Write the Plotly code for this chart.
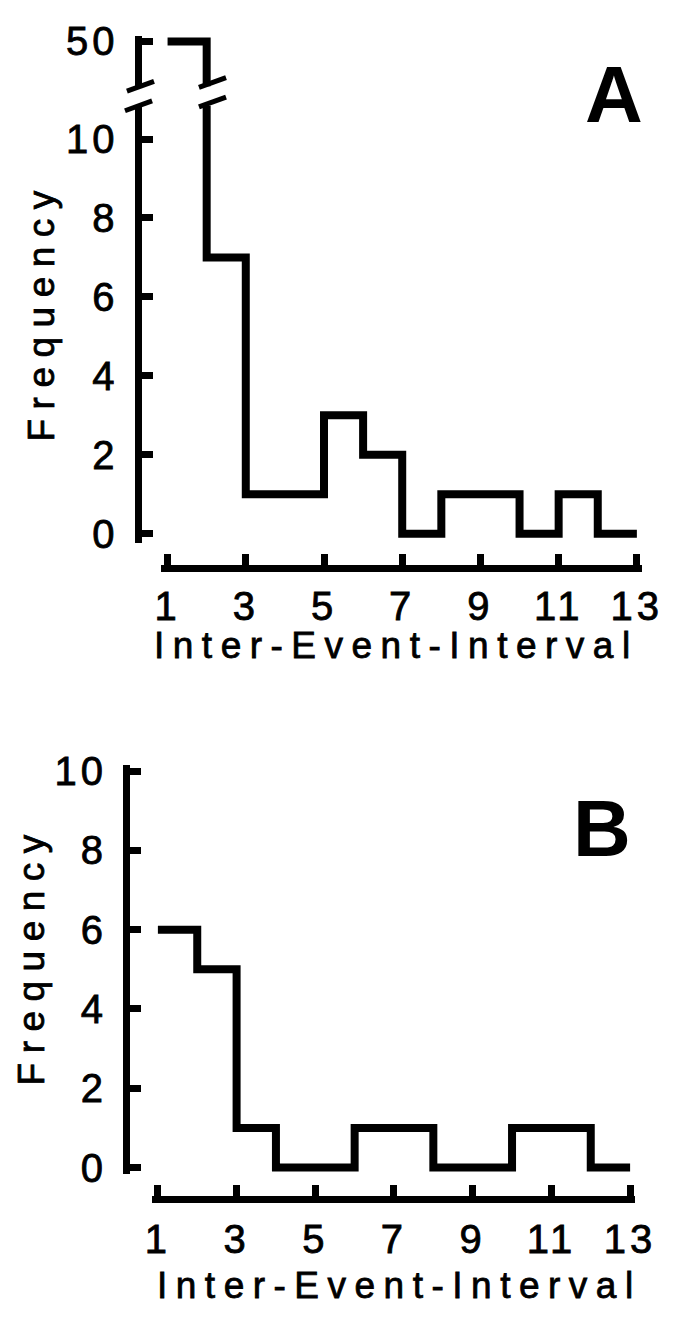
import plotly.graph_objects as go

# ---------------- data ----------------
bin_edges = [1, 2, 3, 4, 5, 6, 7, 8, 9, 10, 11, 12, 13]
counts_A = [50, 7, 1, 1, 3, 2, 0, 1, 1, 0, 1, 0]
counts_B = [6, 5, 1, 0, 0, 1, 1, 0, 0, 1, 1, 0]
x_ticks = [1, 3, 5, 7, 9, 11, 13]
y_ticks_low = [0, 2, 4, 6, 8, 10]
y_ticks_high = [50]
x_title = "Inter-Event-Interval"
y_title = "Frequency"
panel_labels = ["A", "B"]

W, H = 680, 1332


def px(x):
    return x / W


def py(y):
    return 1 - y / H


FONT = "Liberation Sans, Arial, sans-serif"
LW = 8      # histogram line width
AW = 7      # axis line width

fig = go.Figure()

stepA_y = counts_A + [counts_A[-1]]
stepB_y = counts_B + [counts_B[-1]]

line_style = dict(color="black", width=LW, shape="hv")
# panel A: lower and upper parts of the broken axis
fig.add_trace(go.Scatter(x=bin_edges, y=stepA_y, mode="lines", line=line_style,
                         xaxis="x", yaxis="y", showlegend=False, hoverinfo="skip"))
fig.add_trace(go.Scatter(x=bin_edges, y=stepA_y, mode="lines", line=line_style,
                         xaxis="x", yaxis="y2", showlegend=False, hoverinfo="skip"))
# panel B
fig.add_trace(go.Scatter(x=bin_edges, y=stepB_y, mode="lines", line=line_style,
                         xaxis="x2", yaxis="y3", showlegend=False, hoverinfo="skip"))

tickfont = dict(family=FONT, size=40, color="black")
axis_common = dict(showgrid=False, zeroline=False, showline=True, linecolor="black", linewidth=AW,
                   ticks="inside", ticklen=11, tickwidth=AW, tickcolor="black", tickfont=tickfont,
                   fixedrange=True)

# geometry (pixels)
A_x_dom = (161, 658)
A_x_unit = (653 - 168) / 12.0
A_low_dom = (92, 540)
A_low_unit = (530 - 126) / 10.0
A_high_dom = (20, 72)
B_x_dom = (152, 651)
B_x_unit = (646 - 158) / 12.0
B_dom = (767, 1186)
B_unit = (1179 - 773) / 10.0

fig.update_layout(
    width=W, height=H, margin=dict(l=0, r=0, t=0, b=0),
    paper_bgcolor="white", plot_bgcolor="white",
    xaxis=dict(domain=[px(A_x_dom[0]), px(A_x_dom[1])],
               range=[1 - (168 - A_x_dom[0]) / A_x_unit, 13 + (A_x_dom[1] - 653) / A_x_unit],
               anchor="free", position=py(565), tickvals=x_ticks, ticklabelstandoff=0, **axis_common),
    yaxis=dict(domain=[py(A_low_dom[1]), py(A_low_dom[0])],
               range=[-(A_low_dom[1] - 530) / A_low_unit, 10 + (126 - A_low_dom[0]) / A_low_unit],
               anchor="free", position=px(137), tickvals=y_ticks_low, ticklabelstandoff=8, **axis_common),
    yaxis2=dict(domain=[py(A_high_dom[1]), py(A_high_dom[0])],
                range=[50 - (A_high_dom[1] - 26) / A_low_unit, 50 + (26 - A_high_dom[0]) / A_low_unit],
                anchor="free", position=px(137), tickvals=y_ticks_high, ticklabelstandoff=8, **axis_common),
    xaxis2=dict(domain=[px(B_x_dom[0]), px(B_x_dom[1])],
                range=[1 - (158 - B_x_dom[0]) / B_x_unit, 13 + (B_x_dom[1] - 646) / B_x_unit],
                anchor="free", position=py(1211), tickvals=x_ticks, ticklabelstandoff=2, **axis_common),
    yaxis3=dict(domain=[py(B_dom[1]), py(B_dom[0])],
                range=[-(B_dom[1] - 1179) / B_unit, 10 + (773 - B_dom[0]) / B_unit],
                anchor="free", position=px(125), tickvals=y_ticks_low, ticklabelstandoff=8, **axis_common),
)


def slash(cx, cy):
    return dict(type="line", xref="paper", yref="paper",
                x0=px(cx - 14), x1=px(cx + 14), y0=py(cy + 5), y1=py(cy - 5),
                line=dict(color="black", width=5))


bar_px = 168 + (bin_edges[1] - 1) * A_x_unit + 6
shapes = [slash(140, A_high_dom[1]), slash(138, A_low_dom[0]),
          slash(bar_px, A_high_dom[1] - 4), slash(bar_px, A_low_dom[0] - 4)]
fig.update_layout(shapes=shapes)

titlefont = dict(family=FONT, size=37, color="black")
labelfont = dict(family=FONT, size=80, color="black", weight="bold")
ann = [
    dict(text=x_title, x=px(405), y=py(645), font=titlefont),
    dict(text=x_title, x=px(408), y=py(1300), font=titlefont),
    dict(text=y_title, x=px(38), y=py(302), font=titlefont, textangle=-90),
    dict(text=y_title, x=px(28), y=py(962), font=titlefont, textangle=-90),
    dict(text=panel_labels[0], x=px(629), y=py(80), font=labelfont),
    dict(text=panel_labels[1], x=px(617), y=py(832), font=labelfont),
]
for a in ann:
    a.update(xref="paper", yref="paper", showarrow=False, xanchor="center", yanchor="middle")
fig.update_layout(annotations=ann)

post = """
document.body.style.margin = '0';
document.body.style.padding = '0';
document.body.style.overflow = 'hidden';
var gd = document.getElementById('{plot_id}');
gd.querySelectorAll('text.annotation-text').forEach(function(t){
  if (t.textContent === 'Inter-Event-Interval') {
    t.style.letterSpacing = '8.5px';
    t.style.stroke = 'black'; t.style.strokeWidth = '0.8px';
  } else if (t.textContent === 'Frequency') {
    t.style.letterSpacing = '9.5px';
    t.style.stroke = 'black'; t.style.strokeWidth = '0.8px';
  }
});
gd.querySelectorAll('g.xtick text, g.x2tick text, g.ytick text, g.y2tick text, g.y3tick text').forEach(function(t){
  t.style.letterSpacing = '4px';
  t.style.stroke = 'black'; t.style.strokeWidth = '0.8px';
});
"""

fig.write_html("out.html", config={"displayModeBar": False, "staticPlot": True}, post_script=post)
